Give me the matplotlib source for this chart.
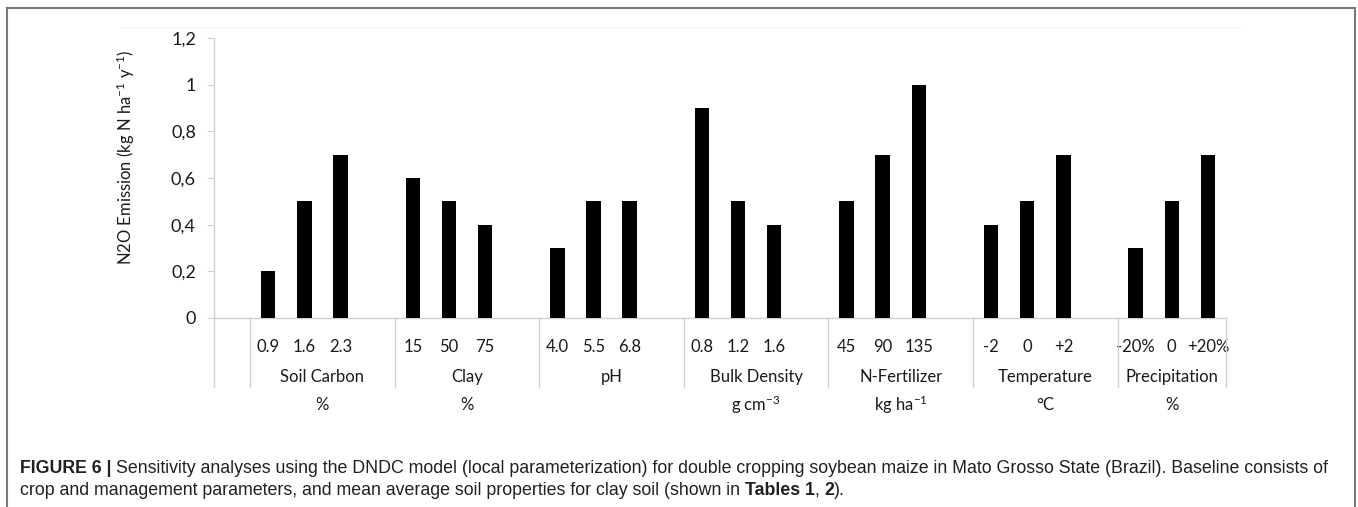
import matplotlib
matplotlib.use("Agg")
import matplotlib.pyplot as plt
from matplotlib.lines import Line2D
import matplotlib.transforms as mtransforms

# ---- data ----
groups = ["Soil Carbon", "Clay", "pH", "Bulk Density", "N-Fertilizer", "Temperature", "Precipitation"]
units = ["%", "%", "", "g cm$^{-3}$", "kg ha$^{-1}$", "°C", "%"]
levels = [["0.9", "1.6", "2.3"], ["15", "50", "75"], ["4.0", "5.5", "6.8"],
          ["0.8", "1.2", "1.6"], ["45", "90", "135"], ["-2", "0", "+2"],
          ["-20%", "0", "+20%"]]
values = [[0.2, 0.5, 0.7], [0.6, 0.5, 0.4], [0.3, 0.5, 0.5],
          [0.9, 0.5, 0.4], [0.5, 0.7, 1.0], [0.4, 0.5, 0.7],
          [0.3, 0.5, 0.7]]
yticks = [0, 0.2, 0.4, 0.6, 0.8, 1.0, 1.2]
ytick_labels = ["0", "0,2", "0,4", "0,6", "0,8", "1", "1,2"]

plt.rcParams['font.family'] = ['Lato', 'DejaVu Sans']
plt.rcParams['mathtext.fontset'] = 'custom'
plt.rcParams['mathtext.rm'] = 'Lato'
plt.rcParams['mathtext.it'] = 'Lato:italic'
plt.rcParams['mathtext.bf'] = 'Lato:bold'

W, H = 1358, 507
fig = plt.figure(figsize=(W / 100, H / 100), dpi=100)
fig.patch.set_facecolor('white')

# axes placement in pixels
x0, x1 = 214, 1226
y_top, y_bot = 38, 318
ax = fig.add_axes([x0 / W, (H - y_bot) / H, (x1 - x0) / W, (y_bot - y_top) / H])

grid_col = '#d0d0d0'
txt_col = '#1a1a1a'
fs = 12

# slots: one empty slot first, then 4 slots per group (3 bars + gap), last group 3 slots
n_slots = 1 + 4 * (len(groups) - 1) + 3
xs, tlabels, heights = [], [], []
for g, (lv, vals) in enumerate(zip(levels, values)):
    for k, (l, v) in enumerate(zip(lv, vals)):
        xs.append(1 + 4 * g + k)
        tlabels.append(l)
        heights.append(v)

ax.bar(xs, heights, width=0.4, color='black', zorder=3)
ax.set_xlim(-0.5, n_slots - 0.5)
ax.set_ylim(0, 1.2)

for s in ['top', 'right']:
    ax.spines[s].set_visible(False)
ax.spines['left'].set_color(grid_col)
ax.spines['bottom'].set_color(grid_col)
ax.spines['left'].set_linewidth(1.0)
ax.spines['bottom'].set_linewidth(1.0)

ax.set_yticks(yticks)
ax.set_yticklabels(ytick_labels, fontsize=13, color=txt_col)
ax.tick_params(axis='y', length=5, color=grid_col, pad=8)
ax.set_xticks(xs)
ax.set_xticklabels(tlabels, fontsize=fs, color=txt_col)
ax.tick_params(axis='x', length=0, pad=15)

ax.set_ylabel("N2O Emission (kg N ha$^{-1}$ y$^{-1}$)", fontsize=12, color=txt_col)
ax.yaxis.set_label_coords(-(x0 - 137) / (x1 - x0), (y_bot - 157) / (y_bot - y_top))

trans = mtransforms.blended_transform_factory(ax.transData, ax.transAxes)
ah = y_bot - y_top
div_bottom = -(387 - y_bot) / ah
bounds = [-0.5] + [0.5 + 4 * g for g in range(len(groups))] + [n_slots - 0.5]
for b in bounds:
    ax.plot([b, b], [0, div_bottom], transform=trans, color=grid_col, lw=1.0, clip_on=False)

for g, (name, unit) in enumerate(zip(groups, units)):
    left = 0.5 + 4 * g
    right = min(left + 4, n_slots - 0.5)
    cx = (left + right) / 2
    ax.text(cx, -(377 - y_bot) / ah, name, transform=trans, ha='center', va='center',
            fontsize=fs, color=txt_col)
    if unit:
        ax.text(cx, -(405 - y_bot) / ah, unit, transform=trans, ha='center', va='center',
                fontsize=fs, color=txt_col)

# faint chart-area line at top
fig.add_artist(Line2D([120 / W, 1240 / W], [(H - 27) / H] * 2, color='#f3f3f3', lw=1))

# outer frame
frame_col = '#7a7a7a'
fig.add_artist(Line2D([7 / W, 7 / W], [0, (H - 8) / H], color=frame_col, lw=1.5))
fig.add_artist(Line2D([7 / W, 1355 / W], [(H - 8) / H] * 2, color=frame_col, lw=1.5))
fig.add_artist(Line2D([1355 / W, 1355 / W], [0, (H - 8) / H], color=frame_col, lw=1.5))

# caption with mixed bold/regular
cap_font = ['Liberation Sans', 'DejaVu Sans']
cap_size = 12.8
cap_col = '#231f20'
renderer = fig.canvas.get_renderer()


def write_line(parts, x_px, y_px):
    x = x_px
    for text, bold in parts:
        t = fig.text(x / W, (H - y_px) / H, text, fontsize=cap_size, family=cap_font,
                     fontweight='bold' if bold else 'normal', color=cap_col,
                     ha='left', va='baseline')
        bb = t.get_window_extent(renderer=renderer)
        x += bb.width


write_line([("FIGURE 6 | ", True),
            ("Sensitivity analyses using the DNDC model (local parameterization) for double cropping soybean maize in Mato Grosso State (Brazil). Baseline consists of", False)],
           20, 473)
write_line([("crop and management parameters, and mean average soil properties for clay soil (shown in ", False),
            ("Tables 1", True), (", ", False), ("2", True), (").", False)],
           20, 495)

fig.savefig("out.png", dpi=100, facecolor='white')
